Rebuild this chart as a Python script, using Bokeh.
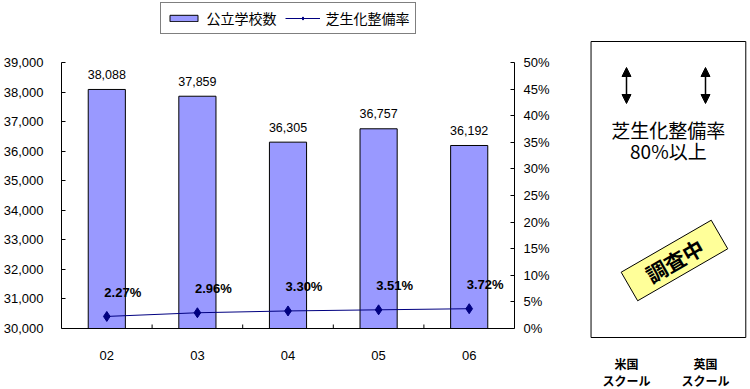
from bokeh.plotting import figure
from bokeh.models import (Range1d, LinearAxis, FixedTicker, NumeralTickFormatter,
                          ColumnDataSource, Legend, LegendItem, Arrow, NormalHead, Span)
from bokeh.layouts import row
from bokeh.core.properties import value
from bokeh.embed import file_html
from bokeh.resources import INLINE
import math

# ---- data ----
years = ["02", "03", "04", "05", "06"]
schools = [38088, 37859, 36305, 36757, 36192]
turf_rate = [0.0227, 0.0296, 0.0330, 0.0351, 0.0372]
left_ticks = [30000, 31000, 32000, 33000, 34000, 35000, 36000, 37000, 38000, 39000]
right_ticks = [0, 0.05, 0.10, 0.15, 0.20, 0.25, 0.30, 0.35, 0.40, 0.45, 0.50]
panel_countries = ["米国", "英国"]
panel_sub = ["スクール", "スクール"]
panel_text = ["芝生化整備率", "80%以上"]
panel_stamp = "調査中"

JP = "Noto Sans CJK JP"
LAT = "Liberation Sans"

# ---- layout (pixels) ----
W_MAIN, H = 575, 389
AX_TOP_GAP, AX_BOT_GAP = 62, 61  # chart axis spans inside the full-height frame (62..328)
AX_H = H - AX_TOP_GAP - AX_BOT_GAP


def padded(lo, hi):
    per_px = (hi - lo) / AX_H
    return Range1d(lo - AX_BOT_GAP * per_px, hi + AX_TOP_GAP * per_px), per_px


xs = list(range(len(years)))
src = ColumnDataSource(dict(
    x=xs, schools=schools, rate=turf_rate, base=[left_ticks[0]] * len(xs), years=years,
    school_lbl=[f"{v:,}" for v in schools],
    rate_lbl=[f"{v*100:.2f}%" for v in turf_rate],
))

yr, per_px = padded(left_ticks[0], left_ticks[-1])
pr, _ = padded(right_ticks[0], right_ticks[-1])

p = figure(width=W_MAIN, height=H, output_backend="svg", toolbar_location=None,
           x_range=Range1d(-0.5, len(years) - 0.5), y_range=yr,
           min_border_left=60, min_border_right=61, min_border_top=0, min_border_bottom=0)
p.extra_y_ranges = {"pct": pr}
p.grid.visible = False
p.xaxis.visible = False
p.outline_line_color = None
p.background_fill_color = "white"
p.border_fill_color = "white"

# left axis
ya = p.yaxis[0]
ya.ticker = FixedTicker(ticks=left_ticks)
ya.bounds = (left_ticks[0], left_ticks[-1])
ya.formatter = NumeralTickFormatter(format="0,0")
ya.major_tick_in = 4
ya.major_tick_out = 0
ya.minor_tick_line_color = None
ya.major_label_standoff = 18
ya.major_label_text_font = LAT
ya.major_label_text_font_size = "13px"
ya.major_label_text_color = "black"
ya.axis_line_color = "black"

# right axis
ra = LinearAxis(y_range_name="pct", ticker=FixedTicker(ticks=right_ticks),
                formatter=NumeralTickFormatter(format="0%"),
                bounds=(right_ticks[0], right_ticks[-1]))
ra.major_tick_in = 4
ra.major_tick_out = 0
ra.minor_tick_line_color = None
ra.major_label_standoff = 9
ra.major_label_text_font = LAT
ra.major_label_text_font_size = "13px"
ra.major_label_text_color = "black"
p.add_layout(ra, "right")

# category axis: line at 30,000, ticks between categories, labels below
p.add_layout(Span(location=left_ticks[0], dimension="width", line_color="black", line_width=1))
bounds_x = [i + 0.5 for i in xs[:-1]]
p.segment(x0=bounds_x, y0=[left_ticks[0]] * len(bounds_x), x1=bounds_x,
          y1=[left_ticks[0] + 4 * per_px] * len(bounds_x), line_color="black", line_width=1)
p.text(x="x", y="base", text="years", source=src, y_offset=27,
       text_align="center", text_baseline="middle",
       text_font=value(LAT), text_font_size="13px", text_color="black")

bars = p.vbar(x="x", top="schools", bottom=left_ticks[0], width=0.41, source=src,
              fill_color="#9999FF", line_color="black", line_width=1)
p.text(x="x", y="schools", text="school_lbl", source=src, y_offset=-15,
       text_align="center", text_baseline="middle",
       text_font=value(LAT), text_font_size="12.5px", text_color="black")

ln = p.line(x="x", y="rate", y_range_name="pct", source=src, line_color="#000080", line_width=1)
pts = p.scatter(x="x", y="rate", y_range_name="pct", source=src, marker="diamond",
                size=10, fill_color="#000080", line_color="#000080")
p.text(x="x", y="rate", text="rate_lbl", y_range_name="pct", source=src,
       x_offset=16, y_offset=-24, text_align="center", text_baseline="middle",
       text_font=value(LAT), text_font_size="13px", text_font_style="bold", text_color="black")

legend = Legend(items=[LegendItem(label="公立学校数", renderers=[bars]),
                       LegendItem(label="芝生化整備率", renderers=[ln, pts])],
                orientation="horizontal", location="top_center")
legend.label_text_font = JP
legend.label_text_font_size = "14px"
legend.label_text_color = "black"
legend.border_line_color = "black"
legend.border_line_width = 1
legend.background_fill_color = "white"
legend.background_fill_alpha = 1
legend.glyph_width = 35
legend.glyph_height = 8
legend.label_height = 15
legend.label_standoff = 6
legend.spacing = 8
legend.padding = 5
legend.margin = 2
p.add_layout(legend, "center")

# ---- right panel (full-height frame) ----
# x: 0 -> 626px, 1 -> 705px (79 px per unit); frame spans 575..750 px
# y: value = 389 - screen_y
q = figure(width=750 - W_MAIN, height=H, output_backend="svg", toolbar_location=None,
           x_range=Range1d(-0.6456, 1.5696), y_range=Range1d(0, H),
           min_border_left=0, min_border_right=0, min_border_top=0, min_border_bottom=0)
q.grid.visible = False
q.axis.visible = False
q.outline_line_color = None
q.background_fill_color = "white"
q.border_fill_color = "white"

q.quad(left=[-0.449], right=[1.51], bottom=[52], top=[348],
       fill_color="white", line_color="black", line_width=1)

q.text(x=[0, 1], y=[26, 26], text=panel_countries, text_align="center", text_baseline="middle",
       text_font=value(JP), text_font_size="12px", text_font_style="bold", text_color="black")
q.text(x=[0, 1], y=[9, 9], text=panel_sub, text_align="center", text_baseline="middle",
       text_font=value(JP), text_font_size="12px", text_font_style="bold", text_color="black")

for cx in [0, 1]:
    q.add_layout(Arrow(x_start=cx, y_start=286, x_end=cx, y_end=322,
                       start=NormalHead(size=9, fill_color="black", line_color="black"),
                       end=NormalHead(size=9, fill_color="black", line_color="black"),
                       line_color="black", line_width=1.5))

q.text(x=[0.53, 0.53], y=[260, 239], text=panel_text, text_align="center", text_baseline="middle",
       text_font=value(JP), text_font_size="19px", text_color="black")

q.rect(x=[0.607], y=[129], width=104, height=33, width_units="screen", height_units="screen",
       angle=math.radians(30), fill_color="#FFFF99", line_color="black", line_width=1)
q.text(x=[0.607], y=[129], text=[panel_stamp], angle=math.radians(30),
       text_align="center", text_baseline="middle",
       text_font=value(JP), text_font_size="21px", text_font_style="bold", text_color="black")

layout = row(p, q, spacing=0)
open("out.html", "w").write(file_html(layout, INLINE))
